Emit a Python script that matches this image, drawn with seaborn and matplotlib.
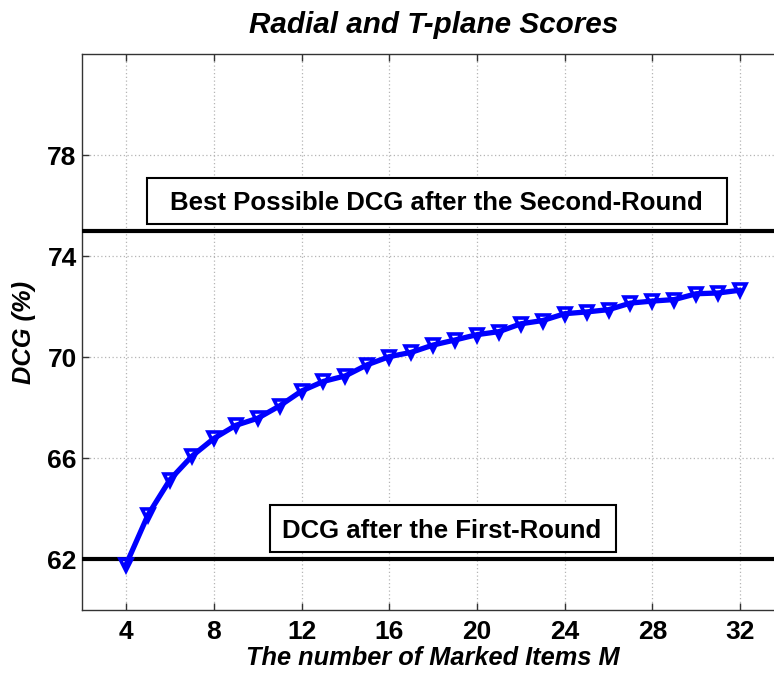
import numpy as np
import pandas as pd
import matplotlib
matplotlib.use("Agg")
import matplotlib.pyplot as plt
from matplotlib.patches import Rectangle
import seaborn as sns

# Number of marked items and the DCG reached after the second round
marked_items = list(range(4, 33))
dcg_second_round = [61.8, 63.77, 65.16, 66.09, 66.79, 67.31, 67.59, 68.08, 68.67,
                    69.05, 69.27, 69.71, 70.03, 70.2, 70.49, 70.69, 70.9, 71.02,
                    71.33, 71.46, 71.73, 71.8, 71.89, 72.15, 72.23, 72.29, 72.52,
                    72.55, 72.66]

# Reference levels
dcg_first_round = 62.0
dcg_best_possible = 75.0

x_ticks = [4, 8, 12, 16, 20, 24, 28, 32]
y_ticks = [62, 66, 70, 74, 78]

title_text = "Radial and T-plane Scores"
x_label = "The number of Marked Items M"
y_label = "DCG (%)"
best_label = "Best Possible DCG after the Second-Round"
first_label = "DCG after the First-Round"

sns.set_style("ticks")
plt.rcParams["font.family"] = ["Liberation Sans", "DejaVu Sans"]
plt.rcParams["font.weight"] = "bold"
plt.rcParams["text.color"] = "black"
plt.rcParams["axes.labelcolor"] = "black"
plt.rcParams["xtick.color"] = "black"
plt.rcParams["ytick.color"] = "black"

df = pd.DataFrame({"M": marked_items, "DCG": dcg_second_round})

fig = plt.figure(figsize=(7.74, 6.77), dpi=100)
ax = fig.add_axes([0.1063, 0.0990, 0.9066, 0.8208])

ax.set_xlim(2, 34)
ax.set_ylim(60, 82)
ax.set_xticks(x_ticks)
ax.set_yticks(y_ticks)

ax.grid(True, color="#b5b5b5", linestyle=(0, (1, 2)), linewidth=0.9)
ax.set_axisbelow(True)

ax.axhline(dcg_first_round, color="black", lw=3, zorder=3)
ax.axhline(dcg_best_possible, color="black", lw=3, zorder=3)

sns.lineplot(data=df, x="M", y="DCG", ax=ax, color="#0000FF", linewidth=3.8,
             marker="v", markersize=9, markerfacecolor="none",
             markeredgecolor="#0000FF", markeredgewidth=2.6, zorder=4)

# Annotation boxes for the reference levels
ax.add_patch(Rectangle((4.94, 75.28), 31.38 - 4.94, 77.10 - 75.28,
                       facecolor="white", edgecolor="black", lw=1.5, zorder=5))
ax.text(18.13, 75.83, best_label, ha="center", va="baseline",
        fontsize=18.5, fontweight="bold", color="black", zorder=6)
ax.add_patch(Rectangle((10.56, 62.28), 26.32 - 10.56, 64.14 - 62.28,
                       facecolor="white", edgecolor="black", lw=1.5, zorder=5))
ax.text(18.41, 62.84, first_label, ha="center", va="baseline",
        fontsize=18.5, fontweight="bold", color="black", zorder=6)

ax.tick_params(axis="both", direction="in", length=5, width=1,
               top=True, right=False, labelsize=19, labelcolor="black")
ax.tick_params(axis="both", color="#333333")
ax.tick_params(axis="x", pad=7)
ax.tick_params(axis="y", pad=4)
for lab in ax.get_xticklabels() + ax.get_yticklabels():
    lab.set_fontweight("bold")
for s in ax.spines.values():
    s.set_color("#333333")
    s.set_linewidth(1)
ax.spines["right"].set_visible(False)

ax.set_xlabel(x_label, fontsize=18.3, fontweight="bold", fontstyle="italic",
              labelpad=2, color="black")
ax.set_ylabel(y_label, fontsize=18.3, fontweight="bold", fontstyle="italic",
              labelpad=8, color="black")
ax.set_title(title_text, fontsize=21.3, fontweight="bold", fontstyle="italic",
             pad=15, color="black")

fig.savefig("out.png", dpi=100)
